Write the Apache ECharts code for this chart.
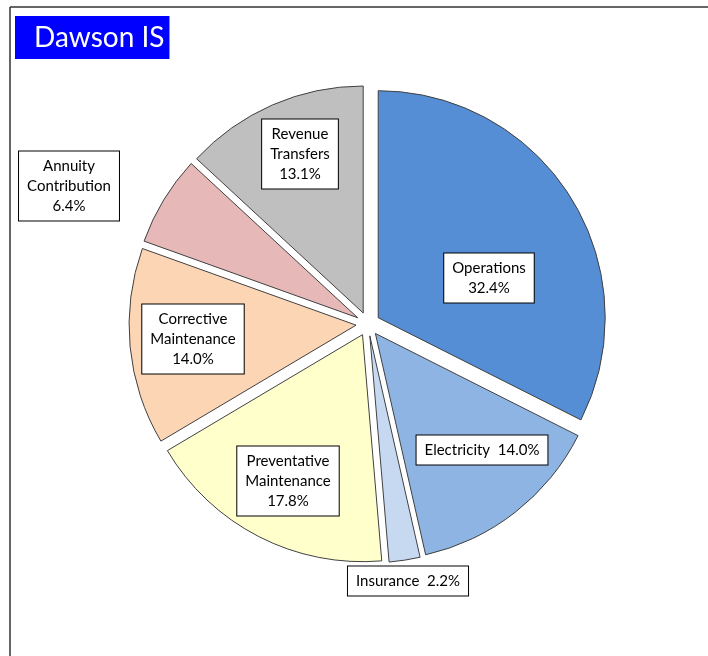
<!DOCTYPE html>
<html>
<head>
<meta charset="utf-8">
<script src="https://cdn.jsdelivr.net/npm/echarts@6/dist/echarts.min.js"></script>
<style>
html,body{margin:0;padding:0;background:#fff;}
#chart{width:708px;height:656px;}
</style>
</head>
<body>
<div id="chart"></div>
<script>
const titleText = 'Dawson IS';
const categories = ['Operations', 'Electricity', 'Insurance', 'Preventative Maintenance', 'Corrective Maintenance', 'Annuity Contribution', 'Revenue Transfers'];
const labelNames = ['Operations', 'Electricity', 'Insurance', 'Preventative\nMaintenance', 'Corrective\nMaintenance', 'Annuity\nContribution', 'Revenue\nTransfers'];
const values = [32.4, 14.0, 2.2, 17.8, 14.0, 6.4, 13.1];
const colors = ['#558ED5', '#8EB4E3', '#C6D9F1', '#FFFFCC', '#FCD5B5', '#E6B9B8', '#BFBFBF'];
const singleLine = [false, true, true, false, false, false, false];
// label box centre positions (px)
const labelPos = [[489, 278], [482, 450], [408, 581], [288, 481], [193, 339], [69, 186], [300, 154]];

const chart = echarts.init(document.getElementById('chart'), null, {renderer: 'canvas'});
const FONT = 'Lato, "Open Sans", sans-serif';

const data = categories.map((c, i) => ({
  name: c,
  value: values[i],
  selected: true,
  itemStyle: {color: colors[i]}
}));

const labelGraphics = categories.map((c, i) => ({
  type: 'text',
  x: labelPos[i][0],
  y: labelPos[i][1],
  z: 100,
  silent: true,
  style: {
    text: labelNames[i] + (singleLine[i] ? '  ' : '\n') + values[i].toFixed(1) + '%',
    fill: '#000',
    font: '15px ' + FONT,
    lineHeight: 20,
    align: 'center',
    verticalAlign: 'middle',
    backgroundColor: '#fff',
    borderColor: '#000',
    borderWidth: 1,
    padding: [5, 8, 4, 8]
  }
}));

chart.setOption({
  animation: false,
  title: {
    text: titleText,
    left: 15,
    top: 16,
    backgroundColor: '#0000FF',
    padding: [8, 5, 7, 19],
    textStyle: {color: '#fff', fontSize: 28, fontWeight: 'normal', fontFamily: FONT, lineHeight: 28}
  },
  graphic: [
    {type: 'line', shape: {x1: 10, y1: 7, x2: 708, y2: 7}, style: {stroke: '#333', lineWidth: 1.5}, silent: true},
    {type: 'line', shape: {x1: 10, y1: 7, x2: 10, y2: 656}, style: {stroke: '#333', lineWidth: 1.5}, silent: true}
  ].concat(labelGraphics),
  series: [{
    type: 'pie',
    center: [368, 324],
    radius: [0, 227],
    startAngle: 90,
    clockwise: true,
    selectedMode: 'multiple',
    selectedOffset: 12,
    emphasis: {disabled: true},
    itemStyle: {borderColor: '#404040', borderWidth: 1},
    label: {show: false},
    labelLine: {show: false},
    data: data
  }]
});
</script>
</body>
</html>
